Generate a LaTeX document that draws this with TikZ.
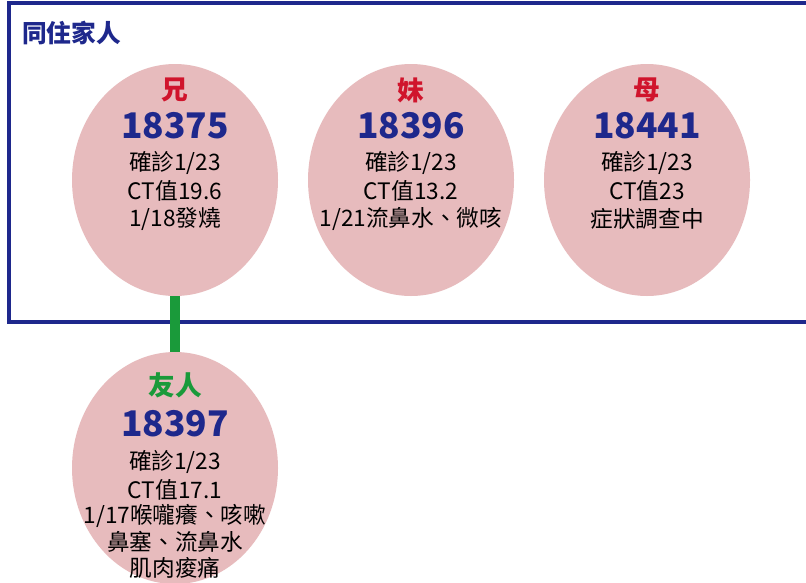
\documentclass[tikz,border=0pt]{standalone}
\usepackage{fontspec}
\setmainfont{Noto Sans CJK TC}
\usetikzlibrary{shapes.geometric}
\definecolor{navy}{RGB}{30,40,140}
\definecolor{pinkfill}{RGB}{231,187,189}
\definecolor{redlab}{RGB}{208,20,44}
\definecolor{greenlab}{RGB}{26,154,58}
\tikzset{
  bubble/.style={ellipse, fill=pinkfill, draw=none, inner sep=0pt, minimum width=154.5pt, minimum height=174pt},
  lab/.style={font=\fontsize{20}{20}\selectfont\bfseries, inner sep=0pt},
  num/.style={font=\fontsize{26.5}{26.5}\selectfont\bfseries, text=navy, inner sep=0pt},
  info/.style={font=\fontsize{17}{17}\selectfont, text=black, inner sep=0pt},
  frameline/.style={draw=navy, line width=3pt},
  link/.style={draw=greenlab, line width=7.5pt}
}
\begin{document}
\begin{tikzpicture}[x=0.75pt,y=-0.75pt]
\useasboundingbox (0,0) rectangle (806,582);
\clip (0,0) rectangle (806,582);
\fill[white] (0,0) rectangle (806,582);
% frame
\draw[frameline] (830,3) -- (8.5,3) -- (8.5,322) -- (830,322);
\node[anchor=west, inner sep=0pt, font=\fontsize{18.5}{18.5}\selectfont\bfseries, text=navy] (title) at (22,33) {同住家人};
% bubbles
\node[bubble] (b1) at (175,180) {};
\node[bubble] (b2) at (411,180) {};
\node[bubble] (b3) at (647,180) {};
\node[bubble] (b4) at (175,468) {};
\draw[link] (b1.south) -- (b4.north);
% brother
\node[lab, text=redlab] (l1) at (175,90) {兄};
\node[num] (n1) at (175,126) {18375};
\node[info] (a1) at (175,163) {確診1/23};
\node[info] (c1) at (175,191) {CT值19.6};
\node[info] (d1) at (175,219) {1/18發燒};
% sister
\node[lab, text=redlab] (l2) at (411,90) {妹};
\node[num] (n2) at (411,126) {18396};
\node[info] (a2) at (411,163) {確診1/23};
\node[info] (c2) at (411,191) {CT值13.2};
\node[info] (d2) at (411,219) {1/21流鼻水、微咳};
% mother
\node[lab, text=redlab] (l3) at (647,90) {母};
\node[num] (n3) at (647,126) {18441};
\node[info] (a3) at (647,163) {確診1/23};
\node[info] (c3) at (647,191) {CT值23};
\node[info] (d3) at (647,219) {症狀調查中};
% friend
\node[lab, text=greenlab] (l4) at (175,385) {友人};
\node[num] (n4) at (175,424) {18397};
\node[info] (a4) at (175,462) {確診1/23};
\node[info] (c4) at (175,490) {CT值17.1};
\node[info] (d4) at (175,516) {1/17喉嚨癢、咳嗽};
\node[info] (e4) at (175,542) {鼻塞、流鼻水};
\node[info] (f4) at (175,568) {肌肉痠痛};
\end{tikzpicture}
\end{document}
